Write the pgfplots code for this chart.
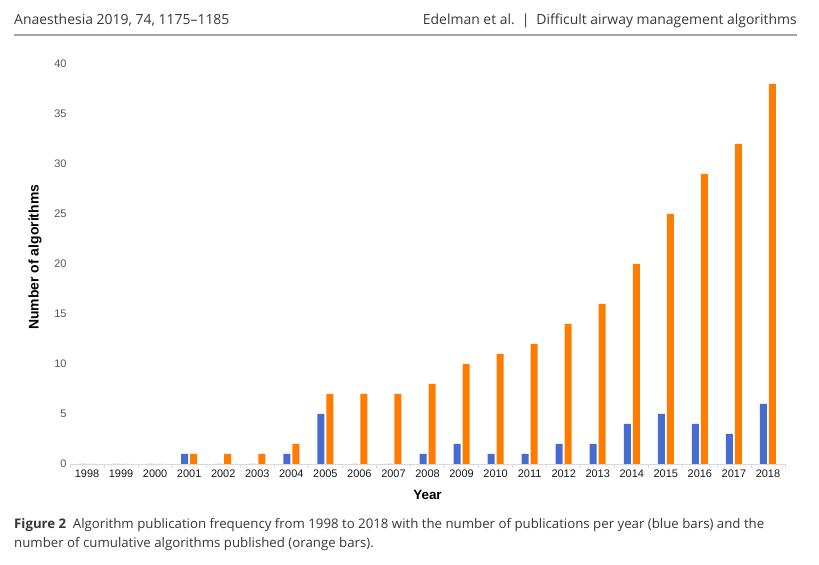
\documentclass[border=0pt]{standalone}
\usepackage{fontspec}
\setmainfont{Liberation Sans}
\newfontfamily\headfont{Open Sans}
\usepackage{pgfplots}
\pgfplotsset{compat=1.18}
\definecolor{barblue}{RGB}{70,108,208}
\definecolor{barorange}{RGB}{255,124,0}
\definecolor{tickgray}{RGB}{85,85,85}
\definecolor{headgray}{RGB}{55,55,55}

\pgfplotstableread{
x blue orange
0 0 0
1 0 0
2 0 0
3 1 1
4 0 1
5 0 1
6 1 2
7 5 7
8 0 7
9 0 7
10 1 8
11 2 10
12 1 11
13 1 12
14 2 14
15 2 16
16 4 20
17 5 25
18 4 29
19 3 32
20 6 38
}\datatable

\begin{document}
\begin{tikzpicture}
\useasboundingbox (0,0) rectangle (819bp,565bp);
% header
\node[anchor=base west, inner sep=0pt, font=\headfont\fontsize{14}{16}\selectfont, text=headgray] at (14bp,540bp) {Anaesthesia 2019, 74, 1175–1185};
\node[anchor=base east, inner sep=0pt, font=\headfont\fontsize{14}{16}\selectfont, text=headgray] at (797bp,540bp) {Edelman et al.\enspace|\enspace Difficult airway management algorithms};
\draw[black!35, line width=1.3bp] (14bp,530bp) -- (797bp,530bp);
% caption
\node[anchor=base west, inner sep=0pt, font=\headfont\fontsize{13.3}{15}\selectfont, text=headgray] at (14bp,37bp) {\textbf{Figure 2}\enspace Algorithm publication frequency from 1998 to 2018 with the number of publications per year (blue bars) and the};
\node[anchor=base west, inner sep=0pt, font=\headfont\fontsize{13.3}{15}\selectfont, text=headgray] at (14bp,18bp) {number of cumulative algorithms published (orange bars).};

\begin{axis}[
  at={(70bp,101bp)}, anchor=south west,
  scale only axis, width=715bp, height=400bp,
  xmin=-0.5, xmax=20.5, ymin=0, ymax=40,
  ybar, bar width=7bp,
  axis x line=bottom, axis y line=left,
  x axis line style={draw=black!15, line width=0.8bp, -},
  y axis line style={draw=none},
  xtick={0,...,20},
  xticklabels={1998,1999,2000,2001,2002,2003,2004,2005,2006,2007,2008,2009,2010,2011,2012,2013,2014,2015,2016,2017,2018},
  minor xtick={-0.5,0.5,...,20.5},
  major tick length=0pt,
  minor tick length=4bp,
  tick align=outside,
  minor x tick style={draw=black!15, line width=0.8bp},
  ytick={0,5,...,40},
  ytick style={draw=none},
  /pgf/number format/assume math mode=true,
  yticklabel style={text=tickgray, font=\fontsize{11}{12}\selectfont},
  xticklabel style={text=black!90, font=\fontsize{11}{12}\selectfont, yshift=-2bp},
  xlabel={Year},
  ylabel={Number of algorithms},
  xlabel style={font=\bfseries\fontsize{13.5}{15}\selectfont, at={(axis description cs:0.5,0)}, anchor=center, yshift=-31bp},
  ylabel style={font=\bfseries\fontsize{14}{15}\selectfont, at={(axis description cs:-0.049,0.517)}, anchor=center},
  clip=false,
]
\addplot[fill=barblue, draw=none, bar shift=-4.5bp] table[x=x, y=blue] {\datatable};
\addplot[fill=barorange, draw=none, bar shift=4.5bp] table[x=x, y=orange] {\datatable};
\end{axis}
\end{tikzpicture}
\end{document}
